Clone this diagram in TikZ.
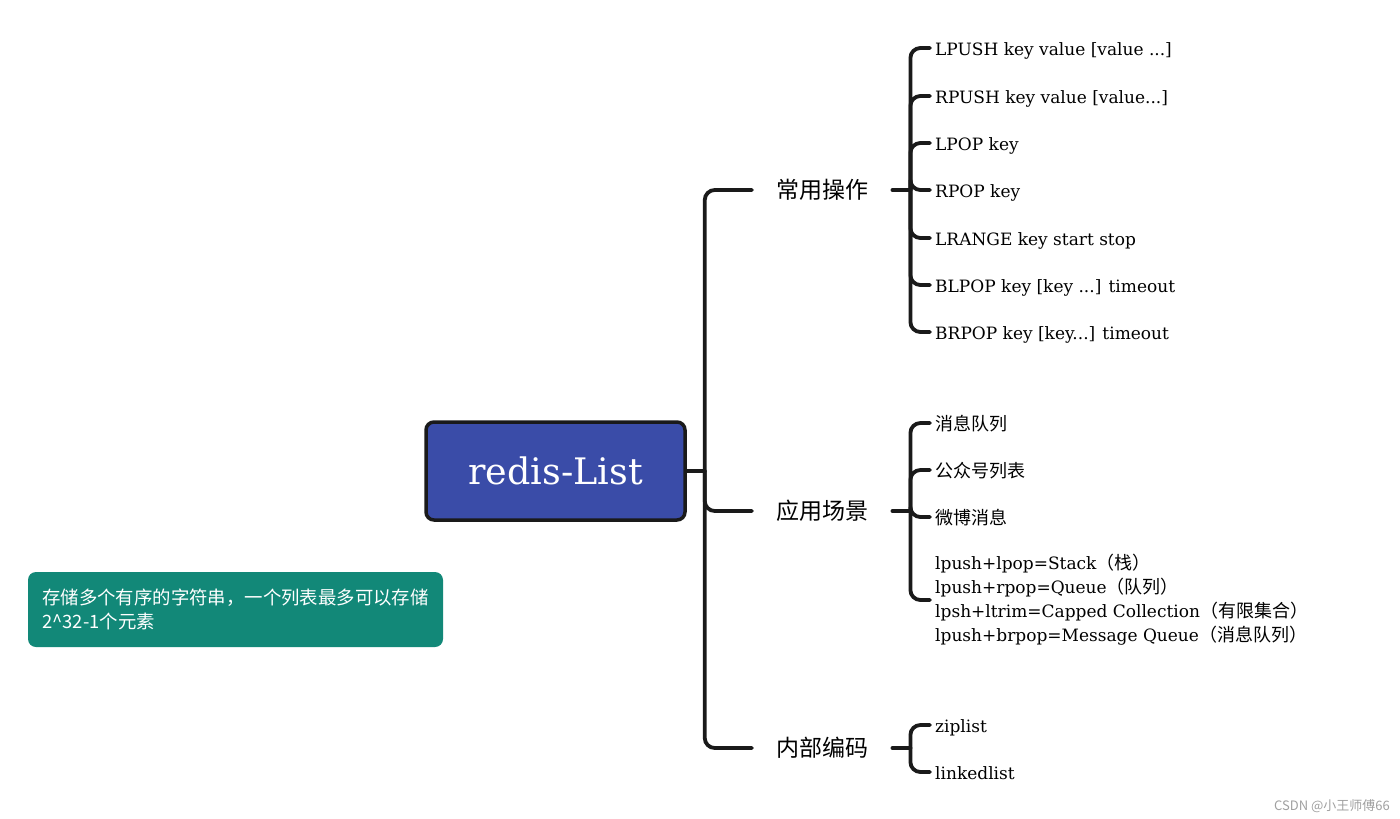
\documentclass[tikz,border=0pt]{standalone}
\usepackage{fontspec}
\setmainfont{DejaVu Serif}
\newfontfamily\cjk{Noto Sans CJK SC}
\definecolor{rootblue}{RGB}{58,76,168}
\definecolor{noteteal}{RGB}{18,136,120}
\definecolor{linec}{RGB}{26,26,26}
\definecolor{wmgray}{RGB}{160,160,160}
\newcommand{\zh}[1]{{\cjk\fontsize{18}{24}\selectfont #1}}
\begin{document}
\begin{tikzpicture}[x=1pt,y=-1pt,
  conn/.style={draw=linec, line width=3.8pt, rounded corners=10pt, line cap=round},
  rootbox/.style={draw=linec, line width=3.5pt, fill=rootblue, rounded corners=8pt,
    minimum width=259pt, minimum height=98pt, text=white, font=\fontsize{36.5}{44}\selectfont},
  lvone/.style={anchor=west, inner xsep=24pt, inner ysep=0pt, text height=17pt, text depth=0pt,
    font=\cjk\fontsize{23}{28}\selectfont},
  leaf/.style={anchor=west, inner xsep=5pt, inner ysep=0pt, text height=14.5pt, text depth=0pt,
    font=\fontsize{17}{24}\selectfont},
  leafmulti/.style={anchor=west, inner xsep=5pt, inner ysep=0pt, align=left,
    font=\fontsize{17}{24}\selectfont},
  notebox/.style={fill=noteteal, rounded corners=8pt, minimum width=415pt, minimum height=75pt,
    text=white, align=left, inner xsep=14pt, font=\cjk\fontsize{18.4}{24}\selectfont},
  wmark/.style={anchor=east, text=wmgray, inner sep=0pt, font=\cjk\fontsize{13}{15}\selectfont}]
\useasboundingbox (0,0) rectangle (1400,819);

% root
\node[rootbox] (root) at (555.5,471) {redis-List};

% level one
\node[lvone] (l1a) at (752,190) {常用操作};
\node[lvone] (l1b) at (752,511) {应用场景};
\node[lvone] (l1c) at (752,748) {内部编码};

% leaves of 常用操作
\node[leaf] (a1) at (930,48) {LPUSH key value [value ...]};
\node[leaf] (a2) at (930,96) {RPUSH key value [value...]};
\node[leaf] (a3) at (930,143) {LPOP key};
\node[leaf] (a4) at (930,190) {RPOP key};
\node[leaf] (a5) at (930,238) {LRANGE key start stop};
\node[leaf] (a6) at (930,285) {BLPOP key [key ...] timeout};
\node[leaf] (a7) at (930,332) {BRPOP key [key...] timeout};

% leaves of 应用场景
\node[leaf] (b1) at (930,423) {\zh{消息队列}};
\node[leaf] (b2) at (930,470) {\zh{公众号列表}};
\node[leaf] (b3) at (930,517) {\zh{微博消息}};
\node[leafmulti] (b4) at (930,600) {lpush+lpop=Stack\zh{（栈）}\\
lpush+rpop=Queue\zh{（队列）}\\
lpsh+ltrim=Capped Collection\zh{（有限集合）}\\
lpush+brpop=Message Queue\zh{（消息队列）}};

% leaves of 内部编码
\node[leaf] (c1) at (930,725) {ziplist};
\node[leaf] (c2) at (930,772) {linkedlist};

% note and watermark
\node[notebox] (note) at (235.5,609.5) {存储多个有序的字符串，一个列表最多可以存储\\2\^{}32-1个元素};
\node[wmark] (wm) at (1390,806) {CSDN @小王师傅66};

% connectors
\coordinate (j0) at ([xshift=18pt]root.east);
\draw[conn] (root.east) -- (j0);
\foreach \t in {l1a,l1b,l1c} \draw[conn] (j0) |- (\t.west);

\coordinate (ja) at ([xshift=18pt]l1a.east);
\draw[conn] (l1a.east) -- (ja);
\foreach \t in {a1,a2,a3,a4,a5,a6,a7} \draw[conn] (ja) |- (\t.west);

\coordinate (jb) at ([xshift=18pt]l1b.east);
\draw[conn] (l1b.east) -- (jb);
\foreach \t in {b1,b2,b3,b4} \draw[conn] (jb) |- (\t.west);

\coordinate (jc) at ([xshift=18pt]l1c.east);
\draw[conn] (l1c.east) -- (jc);
\foreach \t in {c1,c2} \draw[conn] (jc) |- (\t.west);
\end{tikzpicture}
\end{document}
